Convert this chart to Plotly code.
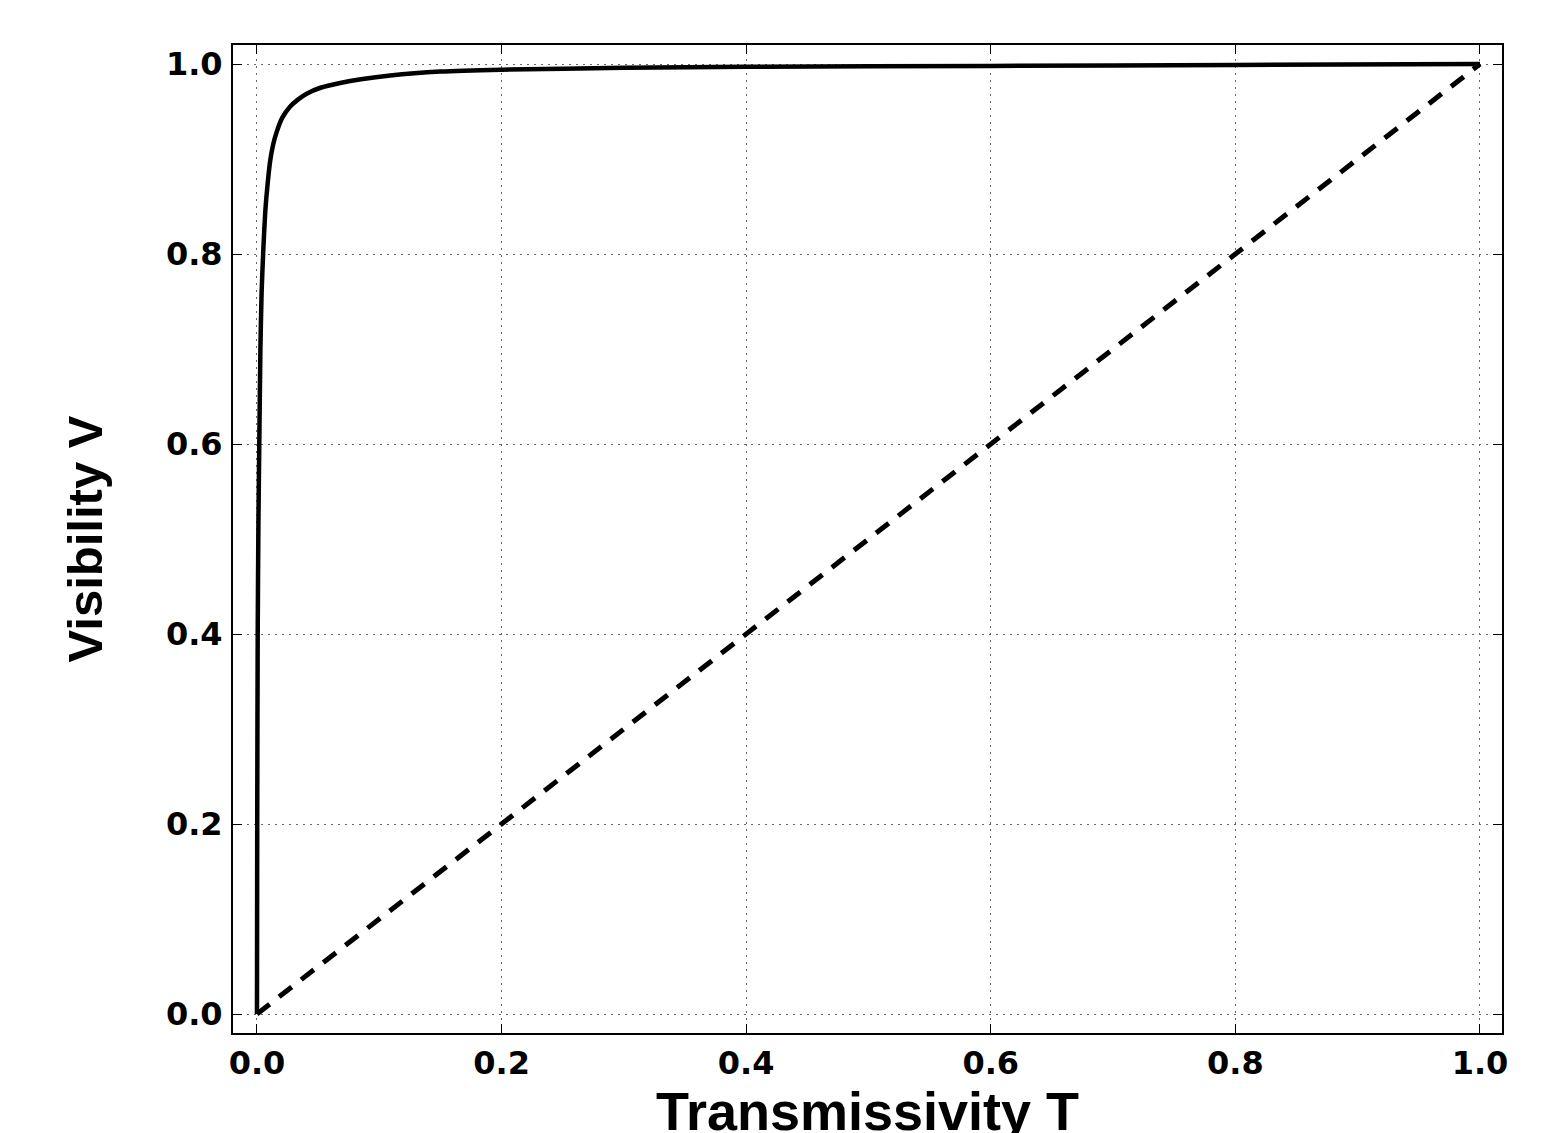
import plotly.graph_objects as go

# Visibility curve
T_curve = [0.0, 0.0002, 0.0006, 0.0012, 0.0019, 0.0028, 0.0038, 0.0052, 0.0068,
           0.0088, 0.0108, 0.0132, 0.016, 0.0205, 0.027, 0.034, 0.041, 0.052,
           0.068, 0.085, 0.109, 0.15, 0.2, 0.3, 0.4, 0.6, 0.8, 1.0]
V_curve = [0.0, 0.20, 0.40, 0.52, 0.60, 0.70, 0.76, 0.805, 0.845,
           0.875, 0.898, 0.915, 0.928, 0.943, 0.955, 0.963, 0.969, 0.975,
           0.980, 0.984, 0.988, 0.992, 0.994, 0.996, 0.997, 0.998, 0.999, 1.0]

# Reference diagonal V = T
T_diag = [0.0, 1.0]
V_diag = [0.0, 1.0]

tick_vals = [0.0, 0.2, 0.4, 0.6, 0.8, 1.0]
tick_text = ["0.0", "0.2", "0.4", "0.6", "0.8", "1.0"]

fig = go.Figure()
fig.add_trace(go.Scatter(x=T_diag, y=V_diag, mode="lines",
                         line=dict(color="black", width=5, dash="16px,12px"),
                         showlegend=False))
fig.add_trace(go.Scatter(x=T_curve, y=V_curve, mode="lines",
                         line=dict(color="black", width=4.5, shape="spline", smoothing=0.6),
                         showlegend=False))

tick_font = dict(family="DejaVu Sans", size=32, color="black", weight="bold")
xtitle_font = dict(family="Liberation Sans", size=54, color="black", weight="bold")
ytitle_font = dict(family="Liberation Sans", size=49, color="black", weight="bold")

grid = dict(showgrid=True, gridcolor="#666666", griddash="2px,5px", gridwidth=1)

fig.update_layout(
    width=1561, height=1133,
    margin=dict(l=225, r=67, t=37, b=108),
    paper_bgcolor="white", plot_bgcolor="white",
    xaxis=dict(range=[-0.0196, 1.018], tickvals=tick_vals, ticktext=tick_text,
               **grid, automargin=False,
               zeroline=False, showline=True, linecolor="black", linewidth=2,
               mirror="ticks", ticks="inside", ticklen=9, tickcolor="black", tickwidth=1,
               tickfont=tick_font, ticklabelstandoff=1,
               title=dict(text="Transmissivity T", font=xtitle_font, standoff=26)),
    yaxis=dict(range=[-0.02, 1.02], tickvals=tick_vals, ticktext=tick_text,
               **grid, automargin=False,
               zeroline=False, showline=True, linecolor="black", linewidth=2,
               mirror="ticks", ticks="inside", ticklen=9, tickcolor="black", tickwidth=1,
               tickfont=tick_font, ticklabelstandoff=2,
               title=dict(text="Visibility V", font=ytitle_font, standoff=48)),
)

fig.write_html("out.html")
